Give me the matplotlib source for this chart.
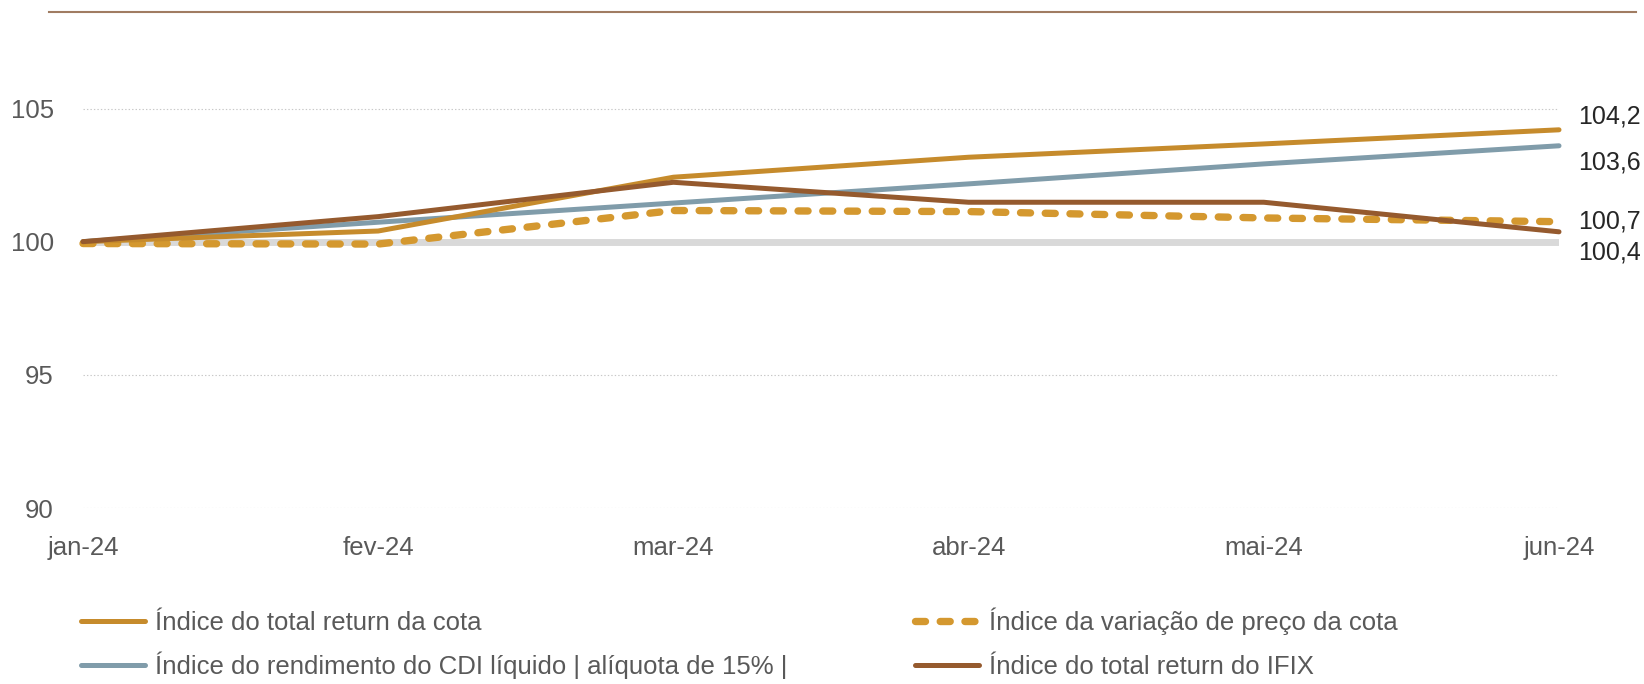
import matplotlib.pyplot as plt
from matplotlib.lines import Line2D

plt.rcParams['font.family'] = ['Liberation Sans', 'DejaVu Sans']
plt.rcParams['lines.scale_dashes'] = False

# Data
meses = ['jan-24', 'fev-24', 'mar-24', 'abr-24', 'mai-24', 'jun-24']
total_return_cota = [100.0, 100.4, 102.42, 103.17, 103.67, 104.2]
variacao_preco_cota = [99.93, 99.91, 101.17, 101.13, 100.89, 100.75]
cdi_liquido = [100.0, 100.73, 101.45, 102.17, 102.92, 103.6]
total_return_ifix = [100.0, 100.94, 102.23, 101.48, 101.48, 100.37]
rotulos = ['104,2', '103,6', '100,7', '100,4']
yticks = [90, 95, 100, 105]

nomes = ['Índice do total return da cota',
         'Índice do rendimento do CDI líquido | alíquota de 15% |',
         'Índice da variação de preço da cota',
         'Índice do total return do IFIX']

c_gold = '#C68B2C'
c_dash = '#D4982F'
c_cdi = '#809CAA'
c_ifix = '#955A2E'
c_text = '#595959'
fs = 18.5
dash_pat = (7.2, 10.6)

W, H = 1644, 684
fig = plt.figure(figsize=(W / 100, H / 100), dpi=100)
ax = fig.add_axes([83 / W, (H - 508) / H, 1476 / W, (508 - 28.6) / H])

x = range(len(meses))
ax.axhline(100, color='#D9D9D9', lw=5, zorder=1)
for yt in [90, 95, 105]:
    ax.axhline(yt, color='#C8C8C8', lw=0.8, ls=(0, (1, 1.5)), zorder=0)

ax.plot(x, cdi_liquido, color=c_cdi, lw=3.6, solid_capstyle='round', zorder=3, clip_on=False)
ax.plot(x, total_return_cota, color=c_gold, lw=3.6, solid_capstyle='round', zorder=4, clip_on=False)
ax.plot(x, variacao_preco_cota, color=c_dash, lw=5.3, dashes=dash_pat,
        dash_capstyle='round', zorder=3, clip_on=False)
ax.plot(x, total_return_ifix, color=c_ifix, lw=3.6, solid_capstyle='round', zorder=5, clip_on=False)

# end labels
finais = [total_return_cota[-1], cdi_liquido[-1], variacao_preco_cota[-1], total_return_ifix[-1]]
offs = [9.5, -12, 0, -15]
for txt, v, dy in zip(rotulos, finais, offs):
    ax.annotate(txt, xy=(5, v), xytext=(13.5, dy), textcoords='offset points',
                ha='left', va='center', fontsize=18, color='#262626')

ax.set_xlim(0, 5)
ax.set_ylim(90, 108)
ax.set_xticks(list(x))
ax.set_xticklabels(meses)
ax.set_yticks(yticks)
ax.tick_params(axis='both', length=0, labelsize=fs, labelcolor=c_text)
ax.tick_params(axis='y', pad=21)
ax.tick_params(axis='x', pad=20)
for s in ax.spines.values():
    s.set_visible(False)

# top decorative rule
fig.add_artist(Line2D([49 / W, 1636 / W], [1 - 12 / H, 1 - 12 / H],
                      color='#A07C62', lw=1.5))

# legend, drawn by hand in pixel positions
legenda = [
    (nomes[0], dict(color=c_gold, lw=3.6, solid_capstyle='round'), 79, 621),
    (nomes[1], dict(color=c_cdi, lw=3.6, solid_capstyle='round'), 79, 665),
    (nomes[2], dict(color=c_dash, lw=5.3, dashes=dash_pat, dash_capstyle='round'), 913, 621),
    (nomes[3], dict(color=c_ifix, lw=3.6, solid_capstyle='round'), 913, 665),
]
for nome, estilo, x0, yc in legenda:
    fig.add_artist(Line2D([(x0 + 2) / W, (x0 + 66) / W], [1 - yc / H, 1 - yc / H], **estilo))
    fig.text((x0 + 76) / W, 1 - (yc + 9) / H, nome, fontsize=fs, color=c_text,
             ha='left', va='baseline')

fig.savefig('out.png', dpi=100)
